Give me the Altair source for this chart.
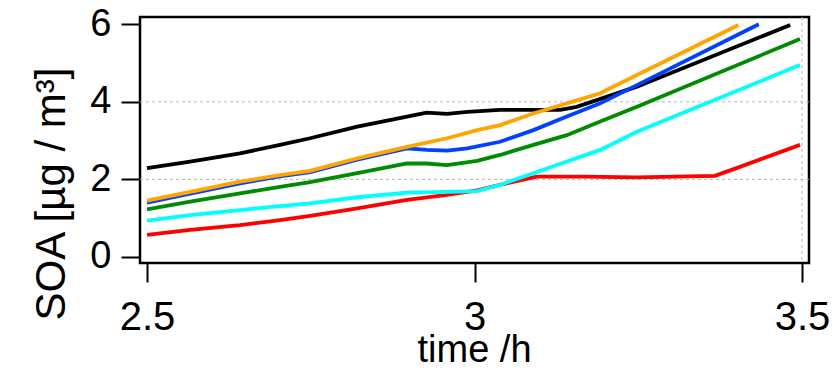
import altair as alt
import pandas as pd

# ---- data ----
series_names = ["black", "red", "cyan", "green", "blue", "orange"]
series_colors = ["#000000", "#ff0000", "#00ffff", "#008c00", "#0040ff", "#ffa500"]

t_black = [2.50, 2.566, 2.642, 2.703, 2.749, 2.821, 2.897, 2.927, 2.958, 2.989, 3.039, 3.131, 3.156, 3.248, 3.482]
v_black = [2.29, 2.46, 2.67, 2.89, 3.06, 3.36, 3.62, 3.72, 3.69, 3.74, 3.79, 3.79, 3.87, 4.39, 5.98]

t_orange = [2.50, 2.566, 2.642, 2.703, 2.749, 2.821, 2.897, 2.958, 3.004, 3.039, 3.09, 3.141, 3.192, 3.248, 3.403]
v_orange = [1.45, 1.68, 1.94, 2.11, 2.22, 2.54, 2.84, 3.06, 3.27, 3.40, 3.70, 3.96, 4.22, 4.69, 5.98]

t_blue = [2.50, 2.566, 2.642, 2.703, 2.749, 2.821, 2.897, 2.927, 2.958, 2.989, 3.039, 3.09, 3.141, 3.192, 3.248, 3.434]
v_blue = [1.40, 1.63, 1.90, 2.08, 2.19, 2.51, 2.80, 2.76, 2.74, 2.80, 2.97, 3.27, 3.62, 3.96, 4.43, 6.00]

t_green = [2.50, 2.566, 2.642, 2.703, 2.749, 2.821, 2.897, 2.927, 2.958, 3.004, 3.039, 3.09, 3.141, 3.192, 3.248, 3.497]
v_green = [1.23, 1.43, 1.64, 1.81, 1.93, 2.16, 2.41, 2.41, 2.37, 2.48, 2.63, 2.89, 3.14, 3.49, 3.87, 5.62]

t_cyan = [2.50, 2.566, 2.642, 2.703, 2.749, 2.821, 2.897, 2.958, 3.004, 3.039, 3.09, 3.141, 3.192, 3.248, 3.497]
v_cyan = [0.94, 1.08, 1.21, 1.31, 1.38, 1.54, 1.66, 1.68, 1.70, 1.86, 2.16, 2.46, 2.76, 3.23, 4.95]

t_red = [2.50, 2.566, 2.642, 2.703, 2.749, 2.821, 2.897, 2.958, 3.004, 3.039, 3.095, 3.167, 3.248, 3.367, 3.40, 3.497]
v_red = [0.57, 0.70, 0.82, 0.95, 1.06, 1.25, 1.47, 1.60, 1.72, 1.86, 2.07, 2.07, 2.05, 2.09, 2.29, 2.89]

x_ticks = [2.5, 3.0, 3.5]
y_ticks = [0, 2, 4, 6]
grid_y = [2, 4]
grid_x = [3.5]

series_data = {
    "black": (t_black, v_black),
    "red": (t_red, v_red),
    "cyan": (t_cyan, v_cyan),
    "green": (t_green, v_green),
    "blue": (t_blue, v_blue),
    "orange": (t_orange, v_orange),
}

FONT = "Liberation Sans"
X_DOMAIN = [2.4893, 3.5107]
Y_DOMAIN = [-0.155, 6.186]

x_label_expr = "datum.value == 3 ? '3' : format(datum.value, '.1f')"

x_scale = alt.Scale(domain=X_DOMAIN, nice=False, zero=False)
y_scale = alt.Scale(domain=Y_DOMAIN, nice=False, zero=False)

x_enc = alt.X(
    "t:Q",
    scale=x_scale,
    axis=alt.Axis(
        values=x_ticks,
        labelExpr=x_label_expr,
        title="time /h",
        domain=False,
        grid=False,
        tickSize=19,
        tickWidth=2,
        tickColor="black",
        labelFontSize=40,
        labelFont=FONT,
        labelColor="black",
        labelPadding=15,
        labelFlush=False,
        labelOverlap=False,
        titleFont=FONT,
        titleFontSize=38,
        titleFontWeight="normal",
        titleColor="black",
        titleBaseline="alphabetic",
        titleY=98,
        titleX=334,
    ),
)

y_enc = alt.Y(
    "v:Q",
    scale=y_scale,
    axis=alt.Axis(
        values=y_ticks,
        format="d",
        title="SOA [µg / m³]",
        domain=False,
        grid=False,
        tickSize=19,
        tickWidth=2,
        tickColor="black",
        labelFontSize=38,
        labelFont=FONT,
        labelColor="black",
        labelPadding=10,
        labelFlush=False,
        labelOverlap=False,
        titleFont=FONT,
        titleFontSize=42,
        titleFontWeight="normal",
        titleColor="black",
        titleAngle=270,
        titleAlign="left",
        titleBaseline="alphabetic",
        titleX=-76,
        titleY=303,
    ),
)

# gridlines (share the same fields/axes as the lines)
gy = alt.Chart(pd.DataFrame({"v": grid_y})).mark_rule(
    color="#b8b8b8", strokeDash=[3, 3], strokeWidth=1
).encode(y=y_enc)

gx = alt.Chart(pd.DataFrame({"t": grid_x})).mark_rule(
    color="#b8b8b8", strokeDash=[3, 3], strokeWidth=1
).encode(x=x_enc)

layers = [gy, gx]
for name, color in zip(series_names, series_colors):
    t, v = series_data[name]
    df = pd.DataFrame({"t": t, "v": v})
    ch = alt.Chart(df).mark_line(color=color, strokeWidth=3.8).encode(x=x_enc, y=y_enc)
    layers.append(ch)

chart = alt.layer(*layers).properties(
    width=669,
    height=246,
    background="white",
    padding={"left": 132, "top": 9, "right": 21, "bottom": 101},
    autosize=alt.AutoSizeParams(type="none"),
).configure_view(
    stroke="black", strokeWidth=2.5
)

chart.save("out.html", embed_options={"renderer": "svg", "actions": False})
